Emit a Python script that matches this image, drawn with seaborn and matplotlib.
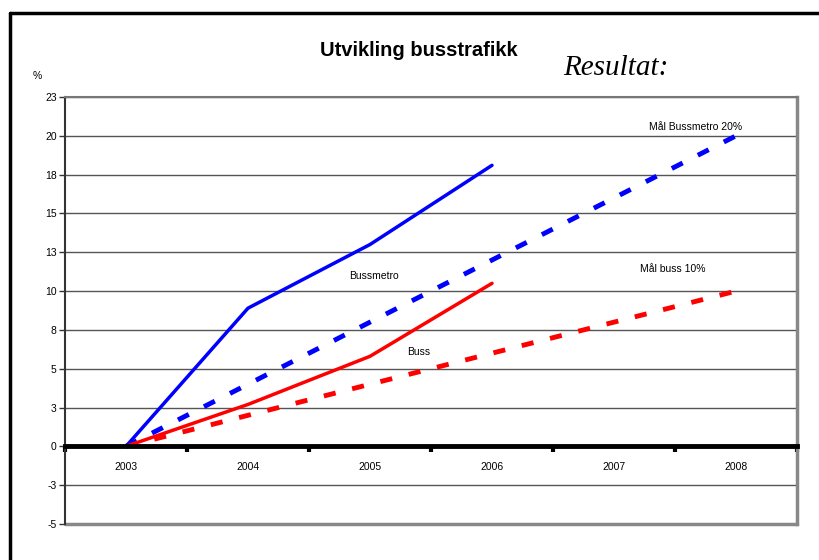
import numpy as np
import matplotlib
matplotlib.use('Agg')
import matplotlib.pyplot as plt
from matplotlib.lines import Line2D
import seaborn as sns

years = ['2003', '2004', '2005', '2006', '2007', '2008']
bussmetro = [0, 8.9, 13.0, 18.1]
buss = [0, 2.7, 5.8, 10.5]
maal_bussmetro = [0, 4, 8, 12, 16, 20]
maal_buss = [0, 2, 4, 6, 8, 10]
y_ticks = [-5, -2.5, 0, 2.5, 5, 7.5, 10, 12.5, 15, 17.5, 20, 22.5]
y_labels = ['-5', '-3', '0', '3', '5', '8', '10', '13', '15', '18', '20', '23']

sns.set_style('white')
plt.rcParams['font.family'] = ['Liberation Sans', 'DejaVu Sans']
plt.rcParams['text.color'] = 'black'
plt.rcParams['xtick.color'] = 'black'
plt.rcParams['ytick.color'] = 'black'

fig = plt.figure(figsize=(8.2, 5.6), dpi=100)
ax = fig.add_axes([65 / 820, 36 / 560, 732 / 820, 427 / 560])

# x axis drawn at y = 0 (set first, it resets the ticks)
ax.spines['bottom'].set_position(('data', 0))
ax.spines['bottom'].set_color('black')
ax.spines['bottom'].set_linewidth(3.5)
ax.spines['bottom'].set_zorder(5)
ax.spines['left'].set_color('#333333')
ax.spines['left'].set_linewidth(1.5)
ax.spines['right'].set_color('#888888')
ax.spines['right'].set_linewidth(2.5)
ax.spines['top'].set_color('#777777')
ax.spines['top'].set_linewidth(1.5)

# gridlines
for v in y_ticks:
    ax.axhline(v, color='#555555', lw=1, zorder=0)
ax.axhline(-5, color='#888888', lw=2.5, clip_on=False, zorder=1)

sns.lineplot(x=np.arange(len(maal_bussmetro)), y=maal_bussmetro, ax=ax, color='#0000ff',
             lw=3.5, linestyle=(0, (2.5, 3.5)))
sns.lineplot(x=np.arange(len(maal_buss)), y=maal_buss, ax=ax, color='#ff0000',
             lw=3.5, linestyle=(0, (2.5, 3.5)))
sns.lineplot(x=np.arange(len(bussmetro)), y=bussmetro, ax=ax, color='#0000ff', lw=2.5)
sns.lineplot(x=np.arange(len(buss)), y=buss, ax=ax, color='#ff0000', lw=2.5)

ax.set_xlim(-0.5, len(years) - 0.5)
ax.set_ylim(-5, 22.5)
ax.set_yticks(y_ticks)
ax.set_yticklabels(y_labels, fontsize=7.5)
ax.tick_params(axis='y', left=True, length=4, width=1, color='#333333', pad=2)

ax.set_xticks(np.arange(len(years)))
ax.set_xticklabels(years, fontsize=7.5)
ax.set_xticks(np.arange(len(years) + 1) - 0.5, minor=True)
ax.tick_params(axis='x', which='major', length=0, pad=11)
ax.tick_params(axis='x', which='minor', bottom=True, length=4, width=3, color='black', direction='out')

ax.text(4.67, 20.6, 'Mål Bussmetro 20%', fontsize=7.5, ha='center', va='center')
ax.text(2.03, 11.0, 'Bussmetro', fontsize=7.5, ha='center', va='center')
ax.text(4.48, 11.4, 'Mål buss 10%', fontsize=7.5, ha='center', va='center')
ax.text(2.4, 6.05, 'Buss', fontsize=7.5, ha='center', va='center')
ax.set_xlabel('')
ax.set_ylabel('')

fig.text(419 / 820, 1 - 50 / 560, 'Utvikling busstrafikk', fontsize=14.5, fontweight='bold',
         ha='center', va='center')
fig.text(616 / 820, 1 - 68 / 560, 'Resultat:', fontsize=21, fontstyle='italic',
         family='Liberation Serif', ha='center', va='center')
fig.text(37 / 820, 1 - 76 / 560, '%', fontsize=7.5, ha='center', va='center')

# outer frame (top and left edges)
fig.add_artist(Line2D([10 / 820, 10 / 820], [0, 1 - 13 / 560], color='black', lw=2.5))
fig.add_artist(Line2D([10 / 820, 1], [1 - 13 / 560, 1 - 13 / 560], color='black', lw=2.5))

fig.savefig('out.png', dpi=100)
